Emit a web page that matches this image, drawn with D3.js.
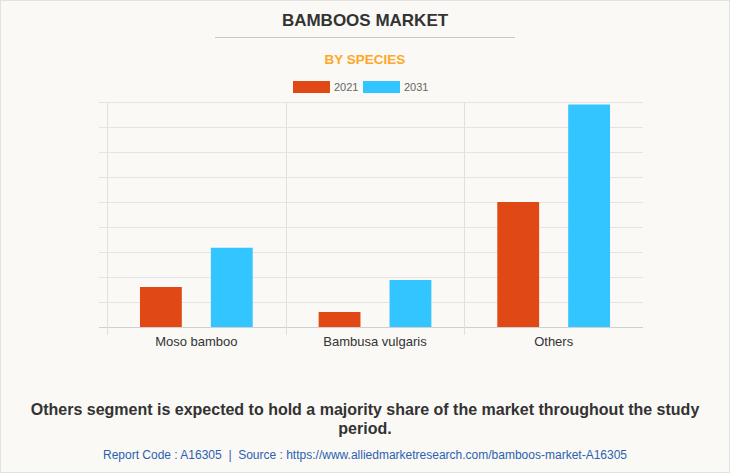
<!DOCTYPE html>
<html><head><meta charset="utf-8">
<script src="https://cdn.jsdelivr.net/npm/d3@7"></script>
<style>
html,body{margin:0;padding:0;background:#fff;}
svg{display:block;}
</style></head>
<body>
<svg id="c" width="730" height="473"></svg>
<script>
const categories = ["Moso bamboo", "Bambusa vulgaris", "Others"];
const seriesNames = ["2021", "2031"];
const values2021 = [1.6, 0.6, 5.0];
const values2031 = [3.17, 1.88, 8.9];
const seriesColors = ["#E04816", "#32C5FF"];
const yTicks = [0,1,2,3,4,5,6,7,8,9];

(function(){
const svg = d3.select("#c");
const W = 730, H = 473;
svg.append("rect").attr("x",0.5).attr("y",0.5).attr("width",W-1).attr("height",H-1)
  .attr("fill","#FAF9F5").attr("stroke","#E2E2E2");

const font = "Arial, 'Liberation Sans', sans-serif";
svg.append("text").attr("x",365).attr("y",26).attr("text-anchor","middle")
  .attr("font-family",font).attr("font-weight","bold").attr("font-size",17)
  .attr("fill","#333").text("BAMBOOS MARKET");
svg.append("line").attr("x1",215).attr("x2",515).attr("y1",37.5).attr("y2",37.5)
  .attr("stroke","#C8C8C8");
svg.append("text").attr("x",365).attr("y",64).attr("text-anchor","middle")
  .attr("font-family",font).attr("font-weight","bold").attr("font-size",13.5)
  .attr("fill","#FFA726").text("BY SPECIES");

// legend
const legX = [293, 363];
seriesNames.forEach((s,i)=>{
  svg.append("rect").attr("x",legX[i]).attr("y",81).attr("width",37).attr("height",12)
    .attr("fill",seriesColors[i]);
  svg.append("text").attr("x",legX[i]+41).attr("y",91).attr("font-family",font)
    .attr("font-size",11).attr("fill","#666").text(s);
});

const pLeft=107, pRight=643, pTop=102, pBottom=327;
const x0 = d3.scaleBand().domain(categories).range([pLeft,pRight]).padding(0);
const x1 = d3.scaleBand().domain(seriesNames).range([0,x0.bandwidth()]).paddingInner(0.41).paddingOuter(0.465);
const y = d3.scaleLinear().domain([0,9]).range([pBottom,pTop]);

const g = svg.append("g");
g.selectAll("line.h").data(yTicks).join("line")
  .attr("x1",pLeft-8).attr("x2",pRight)
  .attr("y1",d=>Math.round(y(d))+0.5).attr("y2",d=>Math.round(y(d))+0.5)
  .attr("stroke",d=>d===0?"#D0D0D0":"#E4E4E4").attr("stroke-width",1);
g.selectAll("line.v").data(categories).join("line")
  .attr("x1",d=>Math.round(x0(d))+0.5).attr("x2",d=>Math.round(x0(d))+0.5)
  .attr("y1",pTop).attr("y2",pBottom+8)
  .attr("stroke","#E0E0E0");

const data = categories.map((c,i)=>({cat:c, vals:[values2021[i], values2031[i]]}));
const grp = g.selectAll("g.cat").data(data).join("g").attr("transform",d=>`translate(${x0(d.cat)},0)`);
grp.selectAll("rect").data(d=>d.vals.map((v,i)=>({s:seriesNames[i], v, i}))).join("rect")
  .attr("x",d=>x1(d.s)).attr("width",x1.bandwidth())
  .attr("y",d=>y(d.v)).attr("height",d=>y(0)-y(d.v))
  .attr("fill",d=>seriesColors[d.i]);

g.selectAll("text.xl").data(categories).join("text")
  .attr("x",d=>x0(d)+x0.bandwidth()/2).attr("y",346).attr("text-anchor","middle")
  .attr("font-family",font).attr("font-size",13).attr("fill","#333").text(d=>d);

const note = ["Others segment is expected to hold a majority share of the market throughout the study","period."];
note.forEach((t,i)=>{
  svg.append("text").attr("x",365).attr("y",415+i*19).attr("text-anchor","middle")
    .attr("font-family",font).attr("font-weight","bold").attr("font-size",16)
    .attr("fill","#333").text(t);
});
svg.append("text").attr("x",365).attr("y",459).attr("text-anchor","middle")
  .attr("font-family",font).attr("font-size",12).attr("fill","#2B62B0")
  .style("white-space","pre")
  .text("Report Code : A16305  |  Source : https://www.alliedmarketresearch.com/bamboos-market-A16305");
})();
</script>
</body></html>
